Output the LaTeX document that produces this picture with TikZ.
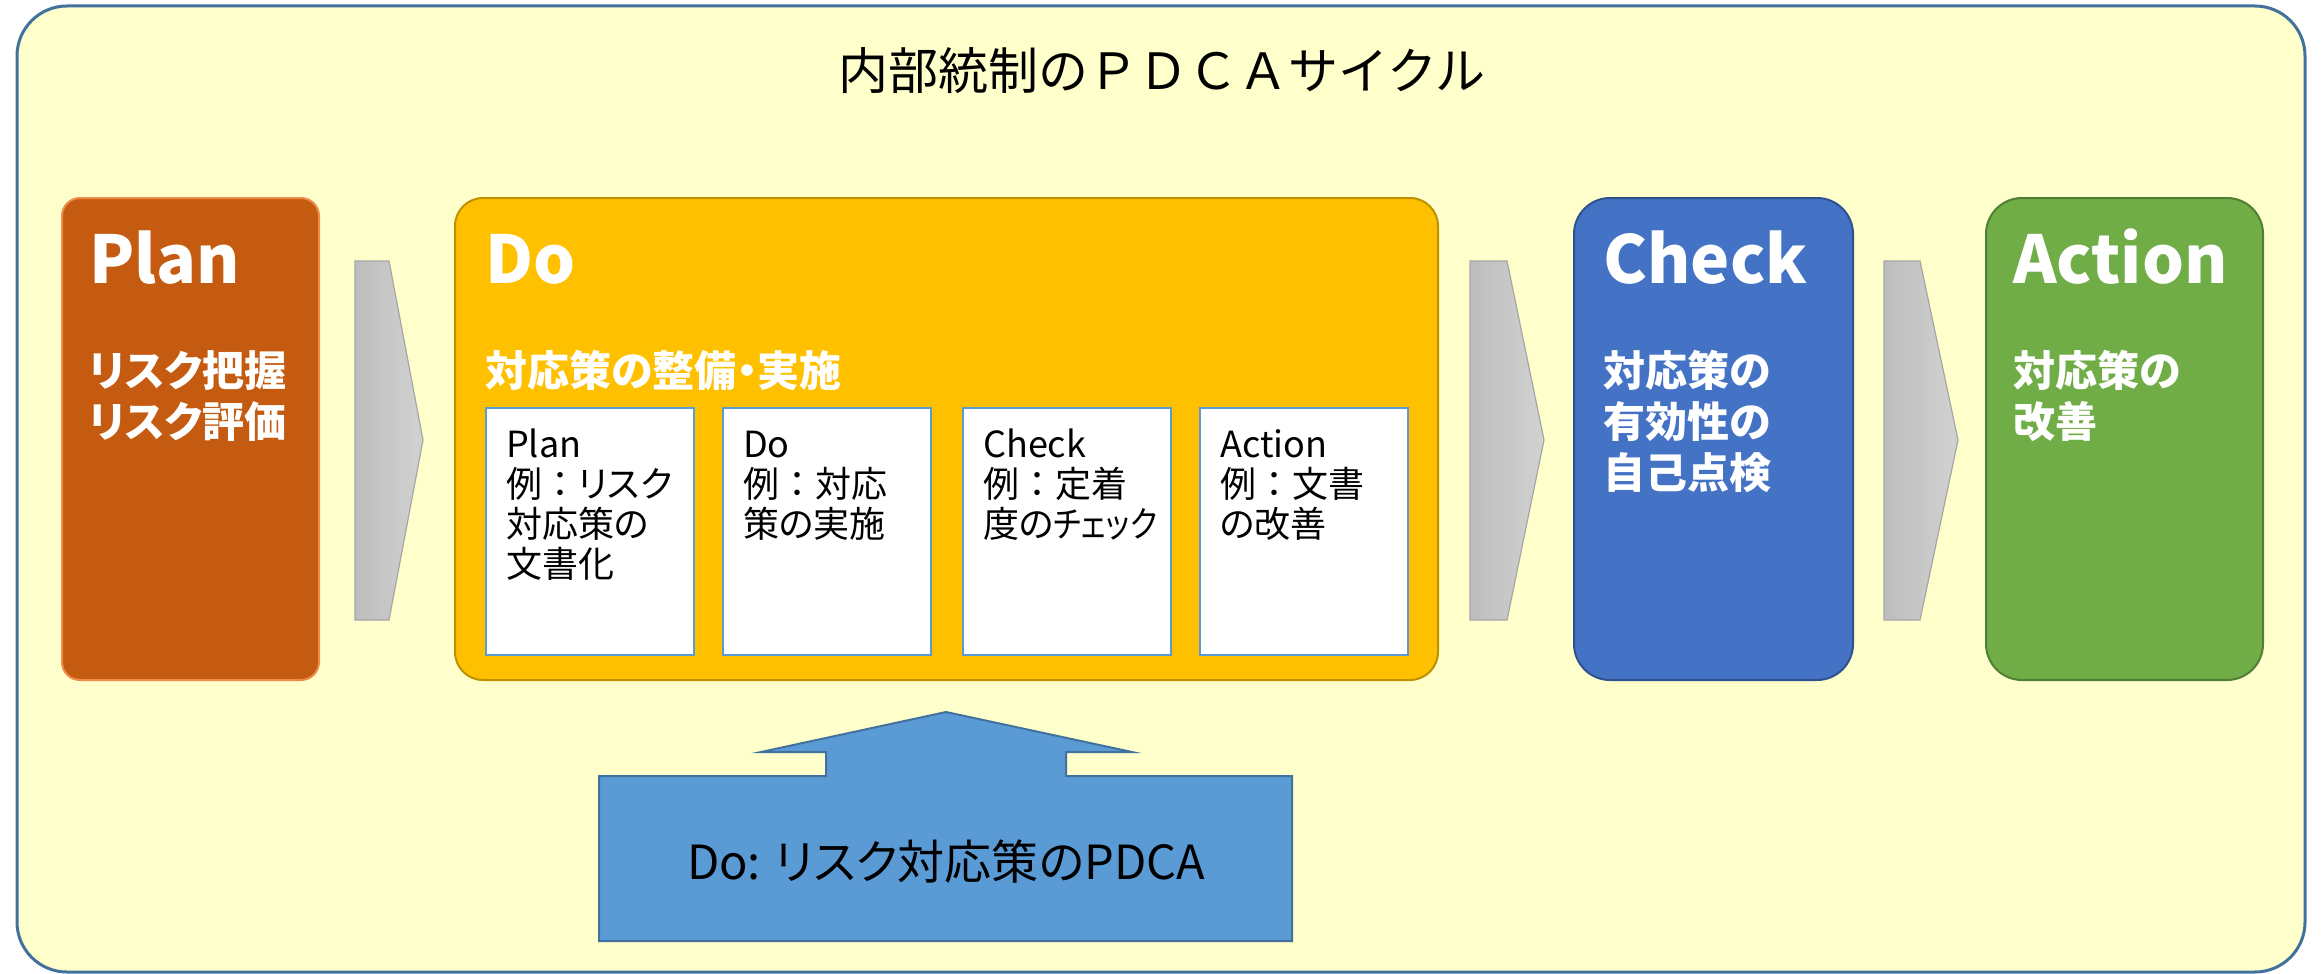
\documentclass[tikz,border=0pt]{standalone}
\usepackage{graphicx}
\usepackage{fontspec}
\setmainfont{Noto Sans CJK JP}[RawFeature=+palt]
\newfontfamily\titlefont{Noto Sans CJK JP}
\newcommand{\fwcolon}{{\titlefont ：}}
\definecolor{outerfill}{HTML}{FFFFCC}
\definecolor{outerline}{HTML}{41719C}
\definecolor{planfill}{HTML}{C55A11}
\definecolor{planline}{HTML}{F08C4A}
\definecolor{dofill}{HTML}{FFC000}
\definecolor{doline}{HTML}{BF9000}
\definecolor{checkfill}{HTML}{4472C4}
\definecolor{checkline}{HTML}{2F528F}
\definecolor{actfill}{HTML}{70AD47}
\definecolor{actline}{HTML}{507E32}
\definecolor{upfill}{HTML}{5B9BD5}
\definecolor{upline}{HTML}{41719C}
\definecolor{innerline}{HTML}{5B9BD5}
\definecolor{chevL}{HTML}{BDBDBD}
\definecolor{chevR}{HTML}{D2D2D2}
\definecolor{chevline}{HTML}{A6A6A6}
\begin{document}
\begin{tikzpicture}[x=1pt,y=-1pt,
  phasebox/.style={draw, line width=2pt, rectangle, anchor=north west, inner sep=0pt},
  innerbox/.style={draw=innerline, fill=white, line width=2pt, rectangle, anchor=north west,
     minimum width=208pt, minimum height=247pt, inner sep=0pt},
  chev/.style={draw=chevline, line width=1.2pt, left color=chevL, right color=chevR, shading angle=90},
  headtxt/.style={text=white, font=\fontsize{66}{70}\selectfont\bfseries, anchor=base west, inner sep=0pt},
  bodytxt/.style={text=white, font=\fontsize{42}{51}\selectfont\bfseries, anchor=north west, align=left, inner sep=0pt},
  innertxt/.style={text=black, font=\fontsize{36}{40}\selectfont, anchor=north west, align=left, inner sep=0pt}
]
\useasboundingbox (0,0) rectangle (2321,974);
% outer frame
\draw[fill=outerfill, draw=outerline, line width=3pt, rounded corners=50pt] (17,6) rectangle (2305,972);
\node[font=\titlefont\fontsize{50}{54}\selectfont, anchor=base, inner sep=0pt] (title) at (1162,89) {内部統制のＰＤＣＡサイクル};

% phase boxes
\node[phasebox, fill=planfill, draw=planline, rounded corners=18pt, minimum width=257pt, minimum height=482pt] (plan) at (61,197) {};
\node[phasebox, fill=dofill, draw=doline, rounded corners=28pt, minimum width=983pt, minimum height=482pt] (do) at (454,197) {};
\node[phasebox, fill=checkfill, draw=checkline, rounded corners=36pt, minimum width=279pt, minimum height=482pt] (check) at (1573,197) {};
\node[phasebox, fill=actfill, draw=actline, rounded corners=36pt, minimum width=277pt, minimum height=482pt] (action) at (1985,197) {};

% chevrons
\shade[chev] (355,261) -- (389,261) -- (423,440) -- (389,620) -- (355,620) -- cycle;
\shade[chev] (1470,261) -- (1507,261) -- (1544,440) -- (1507,620) -- (1470,620) -- cycle;
\shade[chev] (1884,261) -- (1920,261) -- (1958,440) -- (1920,620) -- (1884,620) -- cycle;

% headings
\node[headtxt] (planhead) at (89,283) {Plan};
\node[headtxt] (dohead) at (485,283) {Do};
\node[headtxt] (checkhead) at (1603,283) {Check};
\node[headtxt] (acthead) at (2013,283) {Action};

% bodies
\node[bodytxt] (planbody) at (89,346) {\rule{0pt}{0.95em}リスク把握\\リスク評価};
\node[text=white, font=\fontsize{42}{51}\selectfont\bfseries, anchor=base west, inner sep=0pt] (dosub) at (485,386) {対応策の整備・実施};
\node[bodytxt] (checkbody) at (1603,346) {\rule{0pt}{0.95em}対応策の\\有効性の\\自己点検};
\node[bodytxt] (actbody) at (2013,346) {\rule{0pt}{0.95em}対応策の\\改善};

% inner boxes
\node[innerbox] (ip) at (485,407) {};
\node[innerbox] (id) at (722,407) {};
\node[innerbox] (ic) at (962,407) {};
\node[innerbox] (ia) at (1199,407) {};
\node[innertxt] (ipt) at (506,423) {\rule{0pt}{0.95em}Plan\\例\fwcolon リスク\\対応策の\\文書化};
\node[innertxt] (idt) at (743,423) {\rule{0pt}{0.95em}Do\\例\fwcolon 対応\\策の実施};
\node[innertxt] (ict) at (983,423) {\rule{0pt}{0.95em}Check\\例\fwcolon 定着\\度の\scalebox{0.84}[1]{チェック}};
\node[innertxt] (iat) at (1220,423) {\rule{0pt}{0.95em}Action\\例\fwcolon 文書\\の改善};

% up arrow
\draw[fill=upfill, draw=upline, line width=2pt, line join=miter]
  (599,941) -- (1292,941) -- (1292,776) -- (1066,776) -- (1066,752) -- (1132,752)
  -- (946,712) -- (761,752) -- (826,752) -- (826,776) -- (599,776) -- cycle;
\node[font=\fontsize{47}{52}\selectfont, anchor=base, inner sep=0pt] (uptxt) at (946,879) {Do: リスク対応策のPDCA};
\end{tikzpicture}
\end{document}
